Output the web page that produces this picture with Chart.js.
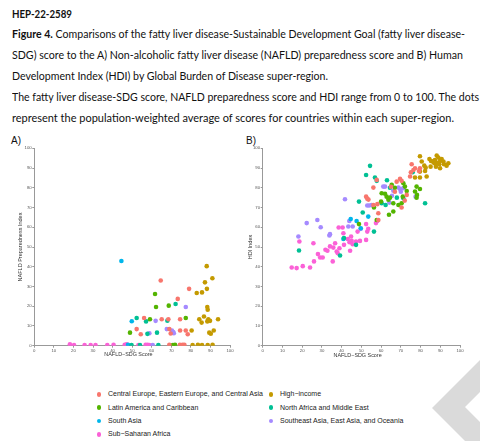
<!DOCTYPE html>
<html>
<head>
<meta charset="utf-8">
<script src="https://cdn.jsdelivr.net/npm/chart.js@4/dist/chart.umd.min.js"></script>
<style>
body{margin:0;background:#fff;width:480px;height:441px;overflow:hidden;position:relative;font-family:Lato,'Liberation Sans',sans-serif;color:#111;}
.ln{position:absolute;left:12px;white-space:nowrap;font-size:10.5px;line-height:12px;transform-origin:0 50%;}
.tag{position:absolute;font-family:'Liberation Sans',Arial,sans-serif;font-size:10px;line-height:12px;}
canvas{position:absolute;top:140px;}
.leg{position:absolute;font-family:'Liberation Sans',Arial,sans-serif;font-size:7px;line-height:8px;color:#1a1a1a;white-space:nowrap;}
.dot{position:absolute;width:4.6px;height:4.6px;border-radius:50%;}
.mark{position:absolute;left:430px;top:358px;width:50px;height:83px;background:#dadada;
  clip-path:polygon(2px 50px,50px 2px,50px 34px,35px 49px,50px 64px,50px 83px,35px 83px);}
</style>
</head>
<body>

<div class="ln" style="top:8px" data-w="60"><b>HEP-22-2589</b></div>
<div class="ln" style="top:28px" data-w="453"><b>Figure 4.</b> Comparisons of the fatty liver disease-Sustainable Development Goal (fatty liver disease-</div>
<div class="ln" style="top:49px" data-w="451">SDG) score to the A) Non-alcoholic fatty liver disease (NAFLD) preparedness score and B) Human</div>
<div class="ln" style="top:70px" data-w="316">Development Index (HDI) by Global Burden of Disease super-region.</div>
<div class="ln" style="top:91px" data-w="467">The fatty liver disease-SDG score, NAFLD preparedness score and HDI range from 0 to 100. The dots</div>
<div class="ln" style="top:112px" data-w="442">represent the population-weighted average of scores for countries within each super-region.</div>

<div class="tag" style="left:11px;top:135px">A)</div>
<div class="tag" style="left:246px;top:135px">B)</div>

<canvas id="chartA" width="240" height="225" style="left:0px"></canvas>
<canvas id="chartB" width="240" height="225" style="left:240px"></canvas>

<div id="legend"></div>
<div class="mark"></div>

<script>
/*********************** donnees ***********************/
const regions = [
  'Central Europe, Eastern Europe, and Central Asia',
  'High\u2212income',
  'Latin America and Caribbean',
  'North Africa and Middle East',
  'South Asia',
  'Southeast Asia, East Asia, and Oceania',
  'Sub\u2212Saharan Africa'
];
const colors = ['#F8766D','#C49A00','#53B400','#00C094','#00B6EB','#A58AFF','#FB61D7'];
const axisTicks = [0,10,20,30,40,50,60,70,80,90,100];

// A) x = NAFLD-SDG score, y = NAFLD preparedness index
const ceA = [[64.6,33.0],[79.1,28.8],[73.3,23.7],[56.1,14.0],[65.1,13.4],[68.5,13.4],[74.5,13.4],[52.3,8.4],[54.4,5.8],[69.0,8.4],[69.7,6.2],[74.5,7.7],[77.4,7.7],[78.4,5.8],[69.0,0.5],[74.4,0.5],[75.8,0.5],[76.7,0.5]];
const hiA = [[88.1,40.3],[91.0,34.2],[87.2,32.1],[88.2,28.8],[85.7,27.0],[83.0,26.7],[88.4,19.6],[88.6,18.2],[86.7,14.8],[84.3,13.4],[88.9,13.4],[88.4,12.3],[89.8,12.6],[85.5,11.7],[93.9,13.4],[89.4,6.6],[90.2,6.1],[91.7,7.7],[80.4,7.7],[80.9,0.3],[83.6,0.5],[85.7,0.3],[88.6,0.3],[91.1,0.5]];
const laA = [[61.7,26.2],[62.2,19.6],[68.7,20.3],[59.1,13.4],[77.4,14.0],[48.9,6.6],[71.9,0.5],[70.8,0.3]];
const naA = [[72.2,21.1],[52.3,14.0],[57.1,12.3],[68.0,12.7],[57.8,6.0],[62.7,6.6],[49.7,0.3],[54.0,0.3],[63.4,0.3]];
const saA = [[44.5,42.9],[49.8,12.4],[47.9,0.5]];
const seA = [[77.4,19.6],[62.0,12.6],[67.7,8.4],[70.3,7.7],[71.0,6.9],[71.3,6.3],[58.8,6.3],[60.5,0.3]];
const ssA = [[18.2,0.7],[20.3,0.3],[25.7,0.3],[28.8,0.3],[31.3,0.3],[37.3,0.3],[40.5,0.5],[46.2,0.5],[47.2,0.7],[53.2,0.3],[56.9,0.5],[57.9,0.5],[58.8,0.3]];

// B) x = NAFLD-SDG score, y = HDI index
const ceB = [[56.1,80.1],[57.8,84.0],[52.4,75.5],[53.0,74.5],[53.6,74.0],[56.1,71.3],[58.1,71.7],[58.6,67.1],[58.6,63.7],[67.9,83.1],[69.6,84.5],[70.4,83.5],[70.4,70.0],[73.0,76.4],[74.7,85.7],[75.1,87.9],[75.5,91.9],[76.4,89.0],[77.2,89.9],[79.2,88.5],[79.7,89.9],[67.0,78.0],[72.0,73.5],[65.0,80.5]];
const hiB = [[79.7,96.0],[80.6,93.3],[81.9,91.2],[82.6,90.2],[82.3,88.5],[79.7,88.2],[77.2,85.2],[79.7,85.2],[83.1,85.7],[84.5,94.6],[85.3,93.6],[86.1,93.3],[87.3,94.1],[88.2,96.3],[89.0,95.3],[89.9,93.6],[90.7,94.6],[91.6,93.3],[91.9,91.9],[89.5,91.9],[87.8,90.7],[89.9,89.9],[93.2,91.2],[94.1,92.4],[87.0,92.4],[85.1,90.7],[88.5,92.6]];
const laB = [[48.8,61.6],[57.8,63.7],[56.4,70.0],[60.3,77.2],[62.8,75.5],[63.7,73.9],[65.4,81.5],[64.0,66.3],[66.2,68.0],[66.2,72.2],[71.3,82.3],[72.1,80.6],[68.8,71.3],[70.4,72.2],[73.0,78.4],[78.0,80.6],[79.7,79.4],[77.2,78.1],[78.2,76.4],[78.0,75.0],[62.0,77.0],[64.5,75.0],[67.0,80.0],[60.0,73.0],[71.0,75.5]];
const naB = [[18.4,48.2],[54.4,91.1],[52.4,86.5],[56.9,85.2],[57.8,83.5],[63.0,83.8],[48.8,73.0],[50.7,67.5],[39.2,45.7],[47.3,51.1],[56.4,57.8],[60.3,72.2],[62.3,71.3],[82.3,72.2],[71.3,74.7],[76.0,87.9],[41.2,54.5],[64.5,80.0],[68.0,75.0]];
const saB = [[44.6,64.2],[47.6,63.2],[49.7,59.5],[40.9,54.1],[53.5,65.4]];
const seB = [[18.1,55.3],[22.3,62.1],[27.7,63.7],[29.4,60.0],[33.8,55.8],[34.1,56.5],[41.7,74.2],[43.9,63.2],[43.4,60.4],[45.6,60.4],[49.7,59.2],[53.0,71.0],[54.0,71.0],[55.2,71.3],[61.1,80.6],[62.0,80.6],[68.8,80.1],[69.6,79.4],[71.3,79.8],[77.5,75.5],[66.2,78.5],[64.2,72.5],[70.0,78.0],[65.5,76.0]];
const ssB = [[14.7,39.6],[17.2,39.3],[20.3,40.3],[24.0,39.6],[26.0,42.7],[18.6,52.8],[25.7,51.9],[28.0,46.4],[29.1,44.7],[30.4,44.7],[31.8,48.6],[32.8,48.1],[34.1,50.3],[35.8,49.7],[36.7,51.9],[35.5,42.7],[37.5,47.7],[38.0,46.9],[38.9,49.4],[38.5,59.9],[40.5,59.9],[40.9,57.0],[41.2,51.1],[44.3,48.1],[43.1,54.0],[44.0,52.4],[44.8,55.3],[45.1,53.1],[45.6,51.4],[47.3,52.8],[48.1,57.8],[49.3,53.1],[52.4,53.6],[53.0,57.8],[53.5,59.2],[52.4,61.6],[57.4,62.1],[58.1,63.2]];

/*********************** graphiques ***********************/
function panel(id, sets, yTitle, yw, right, yPad, xPad){
  return new Chart(document.getElementById(id), {
    type: 'scatter',
    data: {
      datasets: regions.map((r,i) => ({
        label: r,
        data: sets[i].map(p => ({x:p[0], y:p[1]})),
        backgroundColor: colors[i],
        borderWidth: 0,
        pointRadius: 2.3,
        pointHoverRadius: 2.3
      }))
    },
    options: {
      responsive: false,
      animation: false,
      events: [],
      layout: {padding: {top: 8.3, right: right, left: 0, bottom: 0}},
      plugins: {legend: {display: false}, tooltip: {enabled: false}},
      scales: {
        x: {
          type: 'linear', min: 0, max: 100,
          afterBuildTicks: s => { s.ticks = axisTicks.map(v => ({value: v})); },
          ticks: {font: {family: 'Liberation Sans', size: 4.3}, color: '#555', padding: 0.5, maxRotation: 0, autoSkip: false},
          grid: {drawOnChartArea: false, tickLength: 2, color: '#999'},
          border: {color: '#999'},
          // espaces insecables en fin: le titre ggplot est un peu decale a gauche
          title: {display: true, text: 'NAFLD\u2212SDG Score\u00a0\u00a0\u00a0\u00a0\u00a0', font: {family: 'Liberation Sans', size: 5.4}, color: '#333', padding: {top: 0, bottom: xPad}},
          afterFit: s => { s.height = 19.3; }
        },
        y: {
          type: 'linear', min: 0, max: 100,
          afterBuildTicks: s => { s.ticks = axisTicks.map(v => ({value: v})); },
          ticks: {font: {family: 'Liberation Sans', size: 4.3}, color: '#555', padding: 0.6},
          grid: {drawOnChartArea: false, tickLength: 2, color: '#999'},
          border: {color: '#999'},
          title: {display: true, text: yTitle, font: {family: 'Liberation Sans', size: 5.5}, color: '#333', padding: {top: yPad, bottom: 0}},
          afterFit: s => { s.width = yw; }
        }
      }
    }
  });
}

const chartA = panel('chartA', [ceA,hiA,laA,naA,saA,seA,ssA], 'NAFLD Preparedness Index', 34.3, 10, 17.4, 7);
const chartB = panel('chartB', [ceB,hiB,laB,naB,saB,seB,ssB], 'HDI Index', 22.7, 20, 7.2, 6);

/*********************** legende ***********************/
// ggplot remplit par colonne: 1ere colonne = 0,2,4,6 ; 2e = 1,3,5
const legend = document.getElementById('legend');
const rowsY = [394.3, 407.7, 421, 434.3];
regions.forEach((r,i) => {
  const dx = (i % 2) ? 271 : 99;
  const y = rowsY[Math.floor(i / 2)];
  const d = document.createElement('div');
  d.className = 'dot';
  d.style.left = (dx - 2.3) + 'px';
  d.style.top = (y - 2.3) + 'px';
  d.style.background = colors[i];
  legend.appendChild(d);
  const t = document.createElement('div');
  t.className = 'leg';
  t.style.left = (dx + 9) + 'px';
  t.style.top = (y - 4) + 'px';
  t.textContent = r;
  legend.appendChild(t);
});

/*********************** ajustement du texte ***********************/
document.querySelectorAll('.ln').forEach(item => {
  const w = item.getBoundingClientRect().width;
  item.style.transform = 'scaleX(' + (item.dataset.w / w) + ')';
});
</script>
</body>
</html>
